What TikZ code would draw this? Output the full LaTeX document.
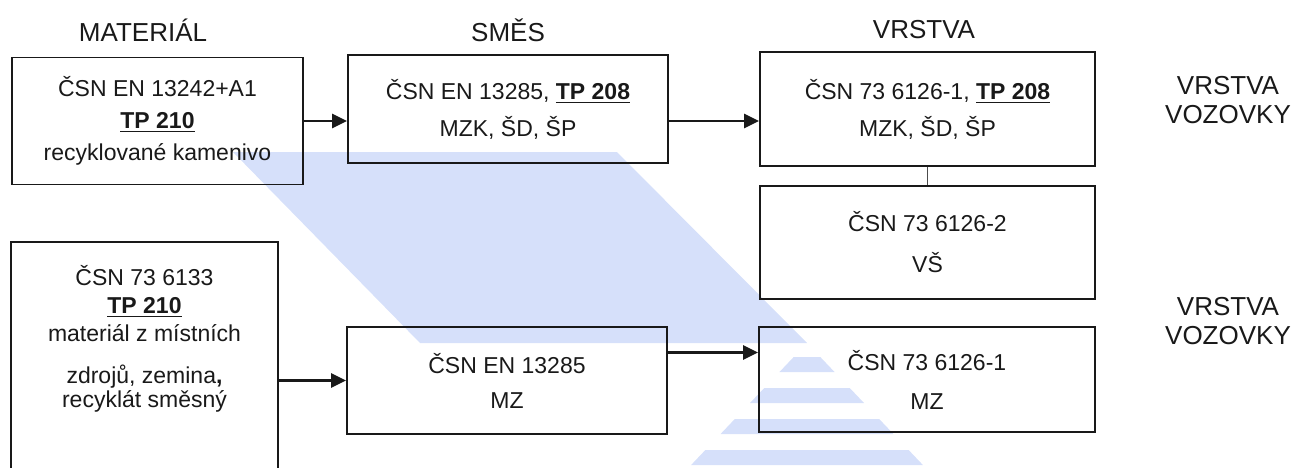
\documentclass[tikz,border=0pt]{standalone}
\usepackage{fontspec}
\setmainfont{Liberation Sans}
\usepackage{xcolor}
\usetikzlibrary{arrows.meta}

\definecolor{ink}{RGB}{25,25,25}
\definecolor{wmark}{RGB}{214,224,250}

\tikzset{
  box/.style={draw=ink, line width=0.9pt, align=center, inner sep=0pt,
    font=\fontsize{11.5}{14}\selectfont, text=ink},
  head/.style={font=\fontsize{13}{14}\selectfont, text=ink},
  side/.style={align=center, font=\fontsize{13}{14.5}\selectfont, text=ink},
  arr/.style={draw=ink, line width=1.2pt, -{Triangle[length=7.5pt,width=7pt]}},
}

\begin{document}
\begin{tikzpicture}[x=0.5pt,y=-0.5pt]
  \useasboundingbox (0,0) rectangle (1297,467);

  % background mark
  \fill[wmark] (233,152) -- (617,152) -- (807,343) -- (420,343) -- cycle;
  \foreach \t in {357,388,419,450}
    \fill[wmark] ({807-0.95*(\t-343)},\t) -- ({807+0.95*(\t-343)},\t)
      -- ({807+0.95*(\t+15-343)},\t+15) -- ({807-0.95*(\t+15-343)},\t+15) -- cycle;

  % column heads
  \node[head] (hmat) at (143,30) {MATERIÁL};
  \node[head] (hmix) at (508,30) {SMĚS};
  \node[head] (hlay) at (924,30) {VRSTVA};

  % upper row
  \node[box, minimum width=145.5pt, minimum height=63.5pt] (mat1) at (157.5,121)
    {ČSN EN 13242+A1\\[2pt] \underline{\textbf{TP 210}}\\[2pt] recyklované kamenivo};
  \node[box, minimum width=160pt, minimum height=54pt] (mix1) at (508,109)
    {ČSN EN 13285, \underline{\textbf{TP 208}}\\[4.5pt] MZK, ŠD, ŠP};
  \node[box, minimum width=167.5pt, minimum height=57pt] (lay1) at (927.5,109)
    {ČSN 73 6126-1, \underline{\textbf{TP 208}}\\[4.5pt] MZK, ŠD, ŠP};
  \node[box, minimum width=167.5pt, minimum height=56.5pt] (lay2) at (927.5,242.5)
    {ČSN 73 6126-2\\[6.5pt] VŠ};

  % lower row
  \node[box, draw=none, minimum width=132.5pt, minimum height=96pt,
    font=\fontsize{11.5}{13.5}\selectfont] (mat2) at (144.5,339)
    {ČSN 73 6133\\[0.5pt] \underline{\textbf{TP 210}}\\[0.5pt] materiál z místních\\[7.5pt]
     zdrojů, zemina\textbf{,}\\[-1.5pt] recyklát směsný};
  \draw[ink, line width=0.9pt] ([yshift=-20pt]mat2.south west) |- (mat2.north east)
    -- ([yshift=-20pt]mat2.south east);
  \node[box, minimum width=160pt, minimum height=53.5pt] (mix2) at (507,380.5)
    {ČSN EN 13285\\[3.5pt] MZ};
  \node[box, minimum width=168pt, minimum height=52.5pt] (lay3) at (927,379.5)
    {ČSN 73 6126-1\\[5.5pt] MZ};

  \node[side] (road1) at (1228,100) {VRSTVA\\VOZOVKY};
  \node[side] (road2) at (1228,321) {VRSTVA\\VOZOVKY};

  % connectors
  \draw[arr] (mat1.east) -- (mat1.east -| mix1.west);
  \draw[arr] ([yshift=-6pt]mix1.east) -- ([yshift=-6pt]lay1.west);
  \draw[arr] (mat2.east |- mix2.west) -- (mix2.west);
  \draw[arr] ([yshift=14pt]mix2.east) -- ([yshift=14pt]mix2.east -| lay3.west);
  \draw[black!70, line width=0.6pt] (lay1.south) -- (lay2.north);
\end{tikzpicture}
\end{document}
